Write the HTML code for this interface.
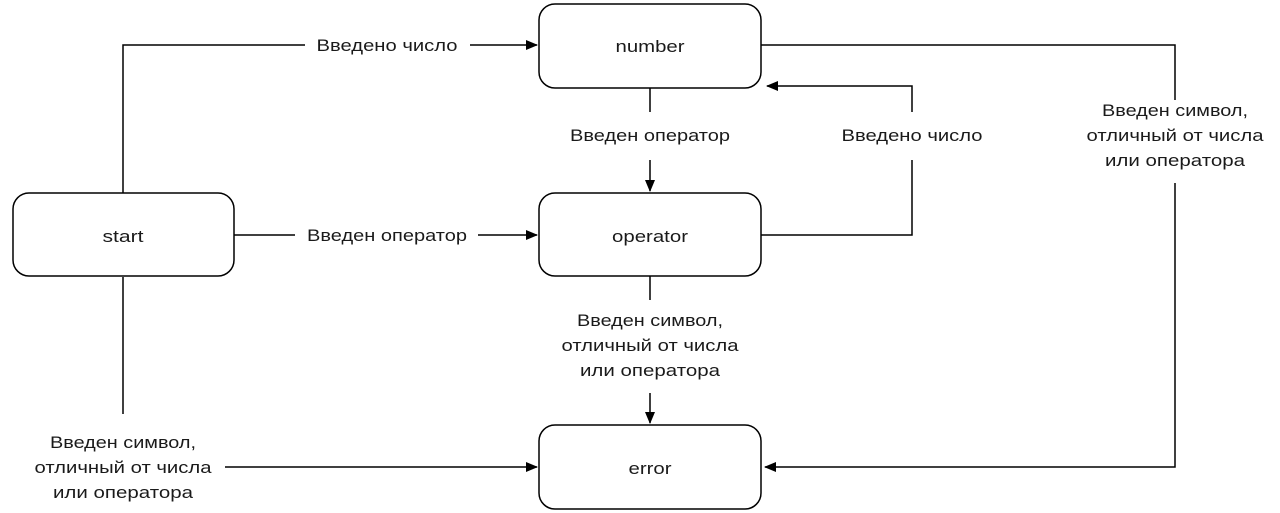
<!DOCTYPE html>
<html><head><meta charset="utf-8"><style>
html,body{margin:0;padding:0;background:#fff;width:1280px;height:513px;overflow:hidden}
text{font-family:"Liberation Sans",sans-serif;font-size:17px;fill:#1a1a1a}
</style></head><body>
<svg width="1280" height="513" viewBox="0 0 1280 513" xmlns="http://www.w3.org/2000/svg">
<defs><marker id="a" markerWidth="12" markerHeight="10" refX="11" refY="5" orient="auto" markerUnits="userSpaceOnUse"><path d="M0,0 L12,5 L0,10 Z" fill="#000"/></marker></defs>
<g fill="#fff" stroke="#000" stroke-width="1.5">
<rect x="539" y="4" width="222" height="84" rx="16"/>
<rect x="539" y="193" width="222" height="83" rx="16"/>
<rect x="13" y="193" width="221" height="83" rx="16"/>
<rect x="539" y="425" width="222" height="84" rx="16"/>
</g>
<g fill="none" stroke="#000" stroke-width="1.5">
<polyline points="123,193 123,45 305,45"/>
<line x1="470" y1="45" x2="537" y2="45" marker-end="url(#a)"/>
<polyline points="761,45 1175,45 1175,100"/>
<polyline points="1175,183 1175,467 765,467" marker-end="url(#a)"/>
<line x1="650" y1="88" x2="650" y2="112"/>
<line x1="650" y1="160" x2="650" y2="191" marker-end="url(#a)"/>
<polyline points="761,235 912,235 912,160"/>
<polyline points="912,112 912,86 767,86" marker-end="url(#a)"/>
<line x1="234" y1="235" x2="295" y2="235"/>
<line x1="478" y1="235" x2="537" y2="235" marker-end="url(#a)"/>
<line x1="650" y1="276" x2="650" y2="300"/>
<line x1="650" y1="393" x2="650" y2="423" marker-end="url(#a)"/>
<line x1="123" y1="277" x2="123" y2="414"/>
<line x1="225" y1="467" x2="537" y2="467" marker-end="url(#a)"/>
</g>
<g text-anchor="middle">
<text x="650" y="52" textLength="69" lengthAdjust="spacingAndGlyphs">number</text>
<text x="650" y="242" textLength="76" lengthAdjust="spacingAndGlyphs">operator</text>
<text x="123" y="242" textLength="41" lengthAdjust="spacingAndGlyphs">start</text>
<text x="650" y="474" textLength="43" lengthAdjust="spacingAndGlyphs">error</text>
<text x="387" y="51" textLength="141" lengthAdjust="spacingAndGlyphs">Введено число</text>
<text x="387" y="241" textLength="160" lengthAdjust="spacingAndGlyphs">Введен оператор</text>
<text x="650" y="141" textLength="160" lengthAdjust="spacingAndGlyphs">Введен оператор</text>
<text x="912" y="141" textLength="141" lengthAdjust="spacingAndGlyphs">Введено число</text>
<text x="1175" y="116" textLength="146" lengthAdjust="spacingAndGlyphs">Введен символ,</text>
<text x="1175" y="141" textLength="177" lengthAdjust="spacingAndGlyphs">отличный от числа</text>
<text x="1175" y="166" textLength="140" lengthAdjust="spacingAndGlyphs">или оператора</text>
<text x="650" y="326" textLength="146" lengthAdjust="spacingAndGlyphs">Введен символ,</text>
<text x="650" y="351" textLength="177" lengthAdjust="spacingAndGlyphs">отличный от числа</text>
<text x="650" y="376" textLength="140" lengthAdjust="spacingAndGlyphs">или оператора</text>
<text x="123" y="448" textLength="146" lengthAdjust="spacingAndGlyphs">Введен символ,</text>
<text x="123" y="473" textLength="177" lengthAdjust="spacingAndGlyphs">отличный от числа</text>
<text x="123" y="498" textLength="140" lengthAdjust="spacingAndGlyphs">или оператора</text>
</g>
</svg>
</body></html>
